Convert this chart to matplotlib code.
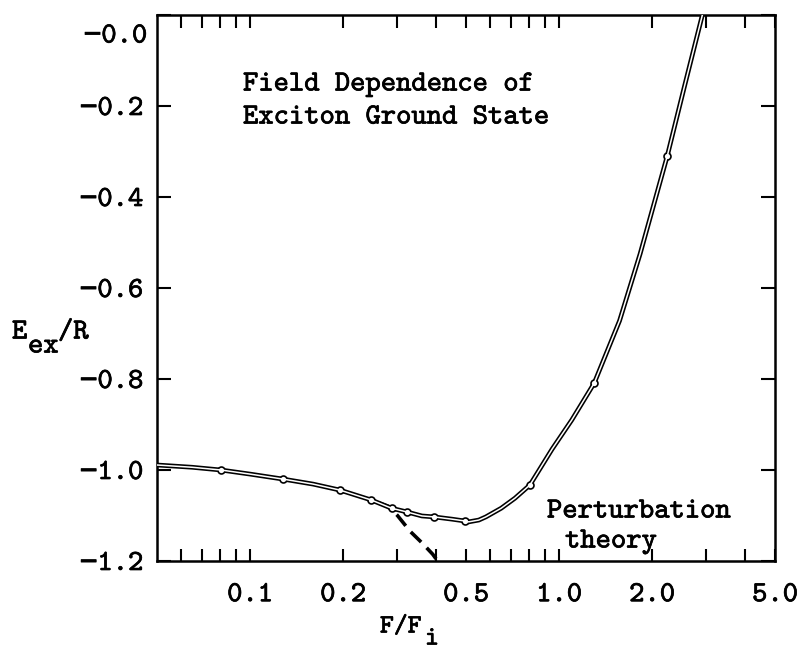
import matplotlib
matplotlib.use("Agg")
import matplotlib.pyplot as plt
import matplotlib.ticker as mticker
import matplotlib.patheffects as pe

W, H = 810, 649
FONT = ["cmtt10", "DejaVu Sans Mono"]
FS = 21
INK = [pe.withStroke(linewidth=0.5, foreground="black")]

# exciton ground state energy vs reduced field
field = [0.05, 0.065, 0.0805, 0.10, 0.128, 0.16, 0.195, 0.247, 0.287, 0.321,
         0.36, 0.393, 0.45, 0.495, 0.51, 0.55, 0.58, 0.65, 0.72, 0.805,
         0.95, 1.10, 1.30, 1.57, 1.83, 2.24, 2.54, 2.91]
energy = [-0.989, -0.994, -1.000, -1.009, -1.020, -1.031, -1.044, -1.066, -1.084, -1.092,
          -1.101, -1.103, -1.108, -1.112, -1.114, -1.110, -1.103, -1.084, -1.062, -1.033,
          -0.954, -0.890, -0.809, -0.672, -0.525, -0.310, -0.160, 0.0]

# computed points (small bumps on the curve)
pt_field = [0.0805, 0.128, 0.195, 0.247, 0.287, 0.321, 0.393, 0.495, 0.805, 1.30, 2.24]
pt_energy = [-1.000, -1.020, -1.044, -1.066, -1.084, -1.092, -1.103, -1.112, -1.033, -0.809, -0.310]

# perturbation theory branch
pert_field = [0.26, 0.28, 0.30, 0.33, 0.36, 0.39, 0.42]
pert_energy = [-1.072, -1.080, -1.100, -1.135, -1.160, -1.185, -1.215]

x_ticks = [0.06, 0.07, 0.08, 0.09, 0.1, 0.2, 0.3, 0.4, 0.5, 0.6, 0.7, 0.8, 0.9,
           1.0, 2.0, 3.0, 4.0, 5.0]
x_named = {0.1: "0.1", 0.2: "0.2", 0.5: "0.5", 1.0: "1.0", 2.0: "2.0", 5.0: "5.0"}
y_ticks = [-1.2, -1.0, -0.8, -0.6, -0.4, -0.2, 0.0]
y_names = ["\u22121.2", "\u22121.0", "\u22120.8", "\u22120.6", "\u22120.4", "\u22120.2", ""]


def fx(px):
    return px / W


def fy(py):
    return 1 - py / H


fig = plt.figure(figsize=(W / 100, H / 100), dpi=100)
ax = fig.add_axes([fx(157), fy(561), (775 - 157) / W, (561 - 15) / H])

# hollow "inked" curve: thick black with a thin white core
ax.plot(field, energy, color="black", linewidth=3.4, solid_capstyle="butt", zorder=3)
ax.plot(pt_field, pt_energy, linestyle="none", marker="o", markersize=5,
        markerfacecolor="white", markeredgecolor="black", markeredgewidth=1.2, zorder=4)
ax.plot(field, energy, color="white", linewidth=1.1, zorder=5)
ax.plot(pert_field, pert_energy, color="black", linewidth=2.6,
        dashes=(4, 2.2), zorder=3, clip_on=True)

ax.set_xscale("log")
ax.set_xlim(0.05, 5.0)
ax.set_ylim(-1.2, 0.0)

ax.xaxis.set_major_locator(mticker.FixedLocator(x_ticks))
ax.xaxis.set_major_formatter(mticker.FixedFormatter([x_named.get(t, "") for t in x_ticks]))
ax.xaxis.set_minor_locator(mticker.NullLocator())
ax.yaxis.set_major_locator(mticker.FixedLocator(y_ticks))
ax.yaxis.set_major_formatter(mticker.FixedFormatter(y_names))

ax.tick_params(axis="x", which="both", direction="in", top=True, length=9,
               width=1.5, pad=16, labelsize=FS)
ax.tick_params(axis="y", which="both", direction="in", right=True, length=10,
               width=1.5, pad=10, labelsize=FS)
for lab in ax.get_xticklabels() + ax.get_yticklabels():
    lab.set_family(FONT)
    lab.set_path_effects(INK)

for sp in ax.spines.values():
    sp.set_linewidth(1.8)

# the "-0.0" label sits a little below the top frame in the original
ax.annotate("\u22120.0", xy=(0, 1), xycoords="axes fraction", xytext=(-10, -22),
            textcoords="offset pixels", ha="right", va="center",
            fontsize=FS, family=FONT, path_effects=INK)

txt = dict(fontsize=FS, family=FONT, va="center", path_effects=INK)
fig.text(fx(243), fy(85), "Field Dependence of", ha="left", **txt)
fig.text(fx(243), fy(118), "Exciton Ground State", ha="left", **txt)
fig.text(fx(547), fy(512), "Perturbation", ha="left", **txt)
fig.text(fx(565), fy(542), "theory", ha="left", **txt)

# axis labels with lowered subscripts, typewriter style
fig.text(fx(12), fy(333), "E", ha="left", **txt)
fig.text(fx(28), fy(347), "ex", ha="left", **txt)
fig.text(fx(58), fy(333), "/R", ha="left", **txt)
lab_txt = dict(txt, fontsize=19)
fig.text(fx(380), fy(627), "F/F", ha="left", **lab_txt)
fig.text(fx(425), fy(639), "i", ha="left", **lab_txt)

fig.savefig("out.png", dpi=100)
